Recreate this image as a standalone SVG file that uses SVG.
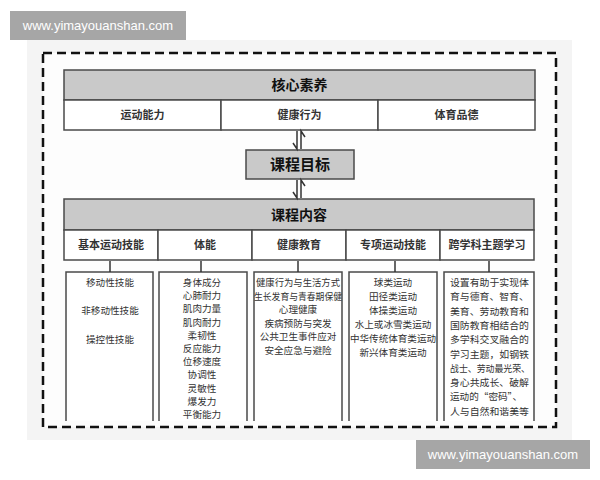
<svg xmlns="http://www.w3.org/2000/svg" width="600" height="480" viewBox="0 0 600 480">
<style>
.box{stroke:#4a4a4a;stroke-width:1.5;}
.hd{fill:#c9c9c9;}
.cell{fill:#ffffff;}
.open{fill:#ffffff;stroke:#4a4a4a;stroke-width:1.5;}
.t{font-family:"Noto Sans CJK SC","Noto Sans",sans-serif;fill:#2a2a2a;text-anchor:middle;}
.big{font-size:14px;font-weight:bold;fill:#111;}
.mid{font-size:11px;font-weight:bold;fill:#333;}
.sm{font-size:9.6px;fill:#333;}
.wm{font-family:"Liberation Sans","DejaVu Sans",sans-serif;font-size:13px;fill:#ffffff;}
.con{stroke:#333;stroke-width:1.5;fill:none;}
</style>
<rect x="0" y="0" width="600" height="480" fill="#ffffff"/>
<rect x="27" y="40" width="545" height="400" fill="#f4f4f4"/>
<rect x="43" y="53" width="513" height="374" fill="#fdfdfd" stroke="#111" stroke-width="2.5" stroke-dasharray="9 5"/>

<g id="watermark-top">
<rect x="10" y="11" width="176" height="29" fill="#a6a6a6"/>
<text class="wm" x="98" y="30" text-anchor="middle">www.yimayouanshan.com</text>
</g>
<g id="watermark-bottom">
<rect x="416" y="440" width="174" height="29" fill="#a6a6a6"/>
<text class="wm" x="503" y="459" text-anchor="middle">www.yimayouanshan.com</text>
</g>

<g id="core">
<rect class="box hd" x="64" y="70" width="471" height="30"/>
<text class="t big" x="299.5" y="90">核心素养</text>
<rect class="box cell" x="64" y="100" width="157" height="30"/>
<rect class="box cell" x="221" y="100" width="157" height="30"/>
<rect class="box cell" x="378" y="100" width="157" height="30"/>
<text class="t mid" x="142.5" y="119">运动能力</text>
<text class="t mid" x="299.5" y="119">健康行为</text>
<text class="t mid" x="456.5" y="119">体育品德</text>
</g>

<g id="goal">
<rect class="box hd" x="246" y="150" width="108" height="29"/>
<text class="t big" x="300" y="170" style="font-size:15px">课程目标</text>
</g>

<g id="content">
<rect class="box hd" x="64" y="199" width="470" height="31"/>
<text class="t big" x="299" y="220">课程内容</text>
<rect class="box cell" x="64" y="230" width="94" height="30"/>
<rect class="box cell" x="158" y="230" width="94" height="30"/>
<rect class="box cell" x="252" y="230" width="94" height="30"/>
<rect class="box cell" x="346" y="230" width="94" height="30"/>
<rect class="box cell" x="440" y="230" width="94" height="30"/>
<text class="t mid" x="111" y="249">基本运动技能</text>
<text class="t mid" x="205" y="249">体能</text>
<text class="t mid" x="299" y="249">健康教育</text>
<text class="t mid" x="393" y="249">专项运动技能</text>
<text class="t mid" x="487" y="249">跨学科主题学习</text>
</g>

<g id="basic-skills">
<path class="open" d="M66,421 V272 H153 V421"/>
<text class="t sm" x="110" y="286">移动性技能</text>
<text class="t sm" x="110" y="314">非移动性技能</text>
<text class="t sm" x="110" y="343">操控性技能</text>
</g>

<g id="fitness">
<path class="open" d="M159,421 V272 H247 V421"/>
<text class="t sm" x="202" y="286">身体成分</text>
<text class="t sm" x="202" y="299.2">心肺耐力</text>
<text class="t sm" x="202" y="312.4">肌肉力量</text>
<text class="t sm" x="202" y="325.6">肌肉耐力</text>
<text class="t sm" x="202" y="338.8">柔韧性</text>
<text class="t sm" x="202" y="352">反应能力</text>
<text class="t sm" x="202" y="365.2">位移速度</text>
<text class="t sm" x="202" y="378.4">协调性</text>
<text class="t sm" x="202" y="391.6">灵敏性</text>
<text class="t sm" x="202" y="404.8">爆发力</text>
<text class="t sm" x="202" y="418">平衡能力</text>
</g>

<g id="health-edu">
<path class="open" d="M254,421 V272 H342 V421"/>
<text class="t sm" x="298" y="286" textLength="84" lengthAdjust="spacingAndGlyphs">健康行为与生活方式</text>
<text class="t sm" x="298" y="299.5" textLength="88" lengthAdjust="spacingAndGlyphs">生长发育与青春期保健</text>
<text class="t sm" x="298" y="313">心理健康</text>
<text class="t sm" x="298" y="326.5">疾病预防与突发</text>
<text class="t sm" x="298" y="340">公共卫生事件应对</text>
<text class="t sm" x="298" y="353.5">安全应急与避险</text>
</g>

<g id="sport-skills">
<path class="open" d="M349,421 V272 H437 V421"/>
<text class="t sm" x="393" y="286">球类运动</text>
<text class="t sm" x="393" y="300">田径类运动</text>
<text class="t sm" x="393" y="314">体操类运动</text>
<text class="t sm" x="393" y="328">水上或冰雪类运动</text>
<text class="t sm" x="393" y="342" textLength="86" lengthAdjust="spacingAndGlyphs">中华传统体育类运动</text>
<text class="t sm" x="393" y="356">新兴体育类运动</text>
</g>

<g id="interdisciplinary">
<path class="open" d="M444,421 V272 H534 V421"/>
<g class="t sm" style="text-anchor:start">
<text x="450" y="286" textLength="79" lengthAdjust="spacingAndGlyphs">设置有助于实现体</text>
<text x="450" y="300.3" textLength="79" lengthAdjust="spacingAndGlyphs">育与德育、智育、</text>
<text x="450" y="314.6" textLength="79" lengthAdjust="spacingAndGlyphs">美育、劳动教育和</text>
<text x="450" y="328.9" textLength="79" lengthAdjust="spacingAndGlyphs">国防教育相结合的</text>
<text x="450" y="343.2" textLength="79" lengthAdjust="spacingAndGlyphs">多学科交叉融合的</text>
<text x="450" y="357.5" textLength="79" lengthAdjust="spacingAndGlyphs">学习主题，如钢铁</text>
<text x="450" y="371.8" textLength="80" lengthAdjust="spacingAndGlyphs">战士、劳动最光荣、</text>
<text x="450" y="386.1" textLength="79" lengthAdjust="spacingAndGlyphs">身心共成长、破解</text>
<text x="450" y="400.4" textLength="72" lengthAdjust="spacingAndGlyphs">运动的“密码”、</text>
<text x="450" y="414.7" textLength="79" lengthAdjust="spacingAndGlyphs">人与自然和谐美等</text>
</g>
</g>

<g id="connectors">
<path class="con" d="M297,131 V149 L293,143"/>
<path class="con" d="M301,149 V131 L305,137"/>
<path class="con" d="M297,180 V198 L293,192"/>
<path class="con" d="M301,198 V180 L305,186"/>
<path class="con" d="M110,261 V272"/>
<path class="con" d="M201,261 V272"/>
<path class="con" d="M298,261 V272"/>
<path class="con" d="M395,261 V272"/>
<path class="con" d="M489,261 V272"/>
</g>
</svg>
